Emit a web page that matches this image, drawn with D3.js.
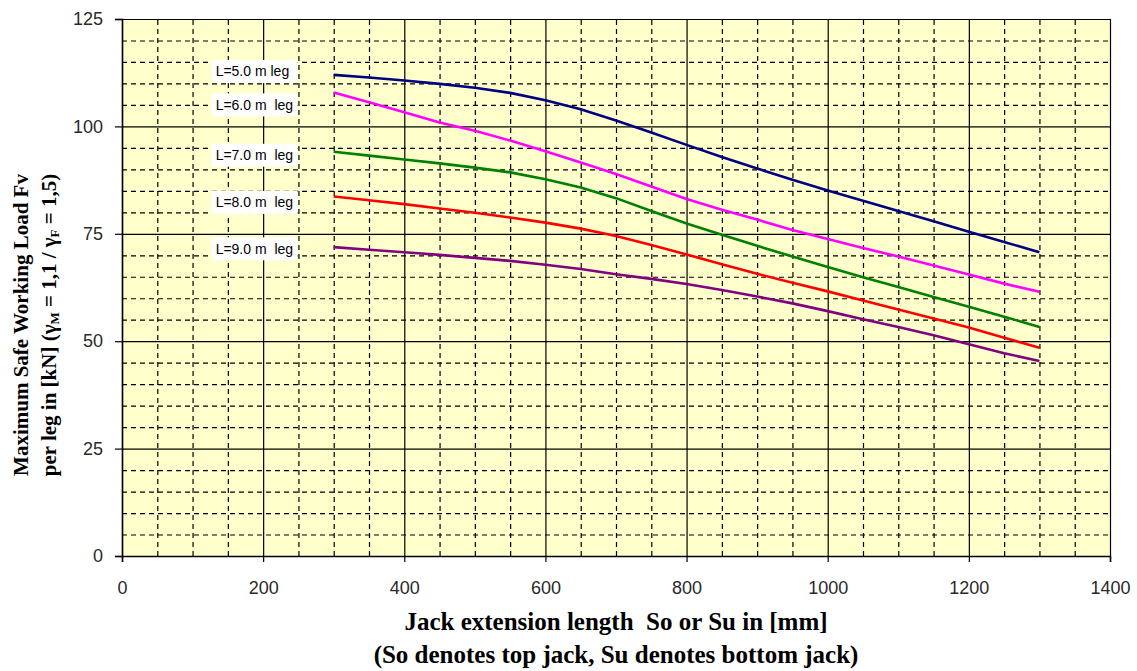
<!DOCTYPE html>
<html>
<head>
<meta charset="utf-8">
<script src="https://cdn.jsdelivr.net/npm/d3@7"></script>
<style>
  body { margin: 0; background: #fff; }
  svg { display: block; }
</style>
</head>
<body>
<div class="chart"></div>
<script>
// ----------------------------------
// DATA
// ----------------------------------
const jackExtension = [300, 350, 400, 450, 500, 550, 600, 650, 700, 750, 800, 850, 900, 950, 1000, 1050, 1100, 1150, 1200, 1250, 1300];

const load_L5 = [112.0, 111.4, 110.7, 109.9, 109.0, 107.8, 106.1, 104.0, 101.4, 98.6, 95.7, 92.9, 90.2, 87.6, 85.1, 82.7, 80.3, 77.9, 75.5, 73.1, 70.7];
const load_L6 = [107.9, 105.6, 103.3, 100.9, 99.0, 96.7, 94.2, 91.6, 88.9, 86.0, 83.1, 80.6, 78.3, 75.9, 73.8, 71.7, 69.7, 67.6, 65.5, 63.4, 61.5];
const load_L7 = [94.1, 93.2, 92.3, 91.4, 90.4, 89.3, 87.7, 85.8, 83.3, 80.3, 77.4, 74.8, 72.2, 69.7, 67.3, 64.9, 62.6, 60.3, 58.0, 55.7, 53.3];
const load_L8 = [83.7, 82.8, 81.9, 80.9, 79.9, 78.8, 77.6, 76.2, 74.5, 72.4, 70.2, 67.9, 65.7, 63.6, 61.6, 59.5, 57.4, 55.3, 53.2, 50.8, 48.5];
const load_L9 = [71.9, 71.3, 70.7, 70.1, 69.4, 68.7, 67.8, 66.8, 65.6, 64.5, 63.3, 61.9, 60.4, 58.8, 57.0, 55.1, 53.3, 51.4, 49.3, 47.2, 45.4];

const seriesNames = ['L=5.0 m leg', 'L=6.0 m\u00a0 leg', 'L=7.0 m\u00a0 leg', 'L=8.0 m\u00a0 leg', 'L=9.0 m\u00a0 leg'];
const seriesColors = ['#000080', '#ff00ff', '#008000', '#ff0000', '#800080'];
const labelValues = [112.8, 105.0, 93.3, 82.3, 71.5]; // where the white name boxes sit on the y scale

const xTicks = [0, 200, 400, 600, 800, 1000, 1200, 1400];
const yTicks = [0, 25, 50, 75, 100, 125];

const allSeries = [load_L5, load_L6, load_L7, load_L8, load_L9];

// ----------------------------------
// SIZES
// ----------------------------------
const width = 1137,
      height = 671,
      margin = { top: 19, right: 27, bottom: 115, left: 122 },
      innerWidth = width - margin.left - margin.right,
      innerHeight = height - margin.top - margin.bottom;

const xScale = d3.scaleLinear().domain([0, 1400]).range([0, innerWidth]);
const yScale = d3.scaleLinear().domain([0, 125]).range([innerHeight, 0]);

const svg = d3.select('.chart')
    .append('svg')
    .attr('width', width)
    .attr('height', height);

const chartInner = svg.append('g')
    .attr('transform', `translate(${margin.left},${margin.top})`);

// plot background
chartInner.append('rect')
    .attr('width', innerWidth)
    .attr('height', innerHeight)
    .style('fill', '#ffffcc');

// ----------------------------------
// GRID (dashed minor, solid major)
// ----------------------------------
const minorX = d3.range(50, 1400, 50).filter(v => v % 200 !== 0);
const minorY = d3.range(5, 125, 5).filter(v => v % 25 !== 0);

function drawGrid(axis, translate, dashed){
    const g = chartInner.append('g')
        .attr('class', 'grid')
        .attr('transform', translate)
        .call(axis.tickFormat(''));
    // only the lines are wanted here
    g.select('.domain').remove();
    g.selectAll('.tick text').remove();
    g.selectAll('.tick line')
        .style('stroke', '#000')
        .style('stroke-width', 1.2)
        .style('stroke-dasharray', dashed ? '5,4' : null);
}

drawGrid(d3.axisBottom(xScale).tickValues(minorX).tickSize(-innerHeight), `translate(0,${innerHeight})`, true);
drawGrid(d3.axisLeft(yScale).tickValues(minorY).tickSize(-innerWidth), 'translate(0,0)', true);
drawGrid(d3.axisBottom(xScale).tickValues(xTicks).tickSize(-innerHeight), `translate(0,${innerHeight})`, false);
drawGrid(d3.axisLeft(yScale).tickValues(yTicks).tickSize(-innerWidth), 'translate(0,0)', false);

// ----------------------------------
// AXES
// ----------------------------------
const xAxis = chartInner.append('g')
    .attr('class', 'x axis')
    .attr('transform', `translate(0,${innerHeight})`)
    .call(d3.axisBottom(xScale).tickValues(xTicks).tickFormat(d3.format('d')).tickSize(6).tickPadding(19));
xAxis.select('.domain').style('stroke', '#000').style('stroke-width', 1.5);
xAxis.selectAll('.tick line').style('stroke', '#000').style('stroke-width', 1.2);
xAxis.selectAll('.tick text')
    .style('font-family', '"Liberation Sans", Arial, sans-serif')
    .style('font-size', '18px')
    .style('fill', '#2a2a2a');

const yAxis = chartInner.append('g')
    .attr('class', 'y axis')
    .call(d3.axisLeft(yScale).tickValues(yTicks).tickFormat(d3.format('d')).tickSize(7).tickPadding(12));
yAxis.select('.domain').style('stroke', '#000').style('stroke-width', 1.5);
yAxis.selectAll('.tick line').style('stroke', '#000').style('stroke-width', 1.2);
yAxis.selectAll('.tick text')
    .style('font-family', '"Liberation Sans", Arial, sans-serif')
    .style('font-size', '18px')
    .style('fill', '#2a2a2a');

// ----------------------------------
// LINES
// ----------------------------------
const line = d3.line()
    .x((d, i) => xScale(jackExtension[i]))
    .y(d => yScale(d));

chartInner.selectAll('.series')
    .data(allSeries)
    .enter()
    .append('path')
    .attr('class', 'series')
    .attr('d', line)
    .style('fill', 'none')
    .style('stroke', (d, i) => seriesColors[i])
    .style('stroke-width', 2.6);

// ----------------------------------
// SERIES NAME BOXES
// ----------------------------------
const boxes = chartInner.selectAll('.name-box')
    .data(seriesNames)
    .enter()
    .append('g')
    .attr('class', 'name-box')
    .attr('transform', (d, i) => `translate(${xScale(127)},${yScale(labelValues[i])})`);

boxes.append('rect')
    .attr('x', 0)
    .attr('y', -11.5)
    .attr('width', 86)
    .attr('height', 23)
    .style('fill', '#fff');

boxes.append('text')
    .attr('x', 4)
    .attr('dy', '0.36em')
    .style('font-family', '"Liberation Sans", Arial, sans-serif')
    .style('font-size', '14px')
    .style('fill', '#000')
    .text(d => d);

// ----------------------------------
// AXIS TITLES
// ----------------------------------
const serif = '"Liberation Serif", "Times New Roman", serif';

const xTitle = svg.append('g')
    .style('font-family', serif)
    .style('font-weight', 'bold')
    .style('font-size', '25px')
    .attr('text-anchor', 'middle');

xTitle.append('text')
    .attr('x', margin.left + innerWidth / 2)
    .attr('y', 630)
    .text('Jack extension length\u00a0 So or Su in [mm]');

xTitle.append('text')
    .attr('x', margin.left + innerWidth / 2)
    .attr('y', 663)
    .text('(So denotes top jack, Su denotes bottom jack)');

const yTitleCenter = 325;
const yTitle = svg.append('g')
    .style('font-family', serif)
    .style('font-weight', 'bold')
    .style('font-size', '21px')
    .attr('text-anchor', 'middle');

yTitle.append('text')
    .attr('transform', `translate(28,${yTitleCenter}) rotate(-90)`)
    .text('Maximum Safe Working Load Fv');

const yLine2 = yTitle.append('text')
    .attr('transform', `translate(56,${yTitleCenter}) rotate(-90)`);
yLine2.append('tspan').text('per leg in [kN] (γ');
yLine2.append('tspan').attr('dy', 3).style('font-size', '13px').text('M');
yLine2.append('tspan').attr('dy', -3).text(' = 1,1 / γ');
yLine2.append('tspan').attr('dy', 3).style('font-size', '13px').text('F');
yLine2.append('tspan').attr('dy', -3).text(' = 1,5)');
</script>
</body>
</html>
